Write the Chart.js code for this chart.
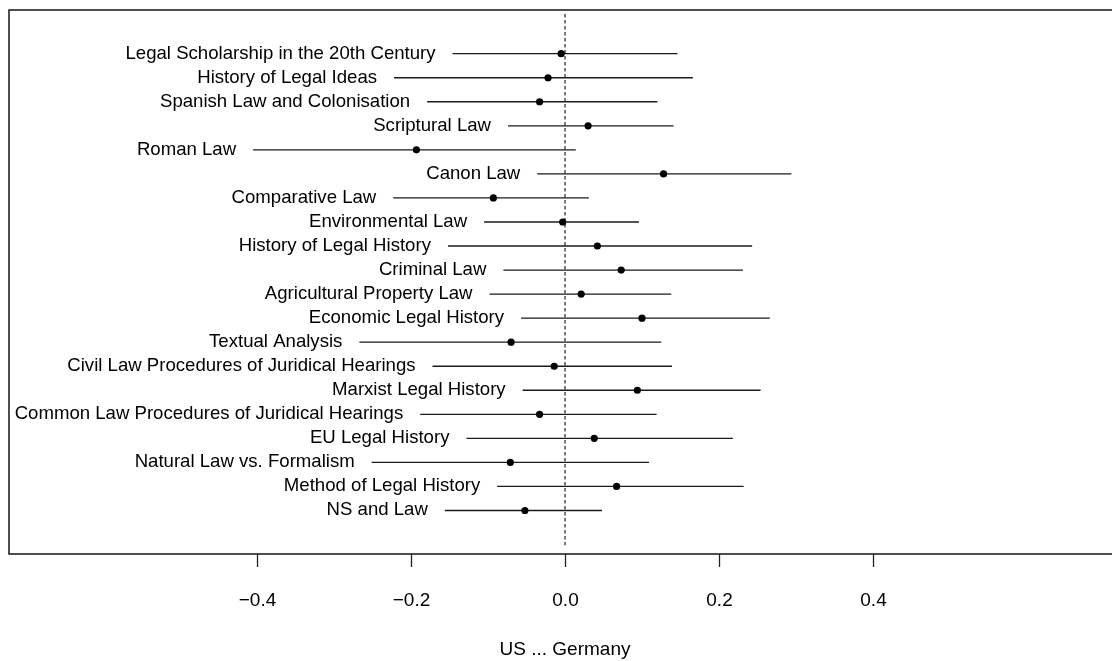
<!DOCTYPE html>
<html>
<head>
<meta charset="utf-8">
<script src="https://cdn.jsdelivr.net/npm/chart.js@4/dist/chart.umd.min.js"></script>
<style>
  body { margin: 0; background: #fff; overflow: hidden; }
  #wrap { width: 1130px; height: 661px; }
</style>
</head>
<body>
<div id="wrap"><canvas id="dotChart"></canvas></div>
<script>
// topics listed top to bottom
const topics = [
  'Legal Scholarship in the 20th Century',
  'History of Legal Ideas',
  'Spanish Law and Colonisation',
  'Scriptural Law',
  'Roman Law',
  'Canon Law',
  'Comparative Law',
  'Environmental Law',
  'History of Legal History',
  'Criminal Law',
  'Agricultural Property Law',
  'Economic Legal History',
  'Textual Analysis',
  'Civil Law Procedures of Juridical Hearings',
  'Marxist Legal History',
  'Common Law Procedures of Juridical Hearings',
  'EU Legal History',
  'Natural Law vs. Formalism',
  'Method of Legal History',
  'NS and Law'
];
const estimates = [-0.005, -0.022, -0.033, 0.030, -0.193, 0.128, -0.093, -0.003, 0.042, 0.073,
                   0.021, 0.100, -0.070, -0.014, 0.094, -0.033, 0.038, -0.071, 0.067, -0.052];
const lower = [-0.146, -0.222, -0.179, -0.074, -0.405, -0.036, -0.223, -0.105, -0.152, -0.080,
               -0.098, -0.057, -0.267, -0.172, -0.055, -0.188, -0.128, -0.251, -0.088, -0.156];
const upper = [0.146, 0.166, 0.120, 0.141, 0.014, 0.294, 0.031, 0.096, 0.243, 0.231,
               0.138, 0.266, 0.125, 0.139, 0.254, 0.119, 0.218, 0.109, 0.232, 0.048];
const tickVals = [-0.4, -0.2, 0.0, 0.2, 0.4];
const tickLabels = ['\u22120.4', '\u22120.2', '0.0', '0.2', '0.4'];
const xTitle = 'US ... Germany';
const refX = 0;
const refSpan = [21.65, -0.45];

const FONT = '"Liberation Sans", Arial, Helvetica, sans-serif';
const INK = '#1a1a1a';

// row 1 sits at the top
const rowY = i => topics.length - i;

const whiskers = topics.map((t, i) => ({
  data: [{x: lower[i], y: rowY(i)}, {x: upper[i], y: rowY(i)}],
  showLine: true,
  borderColor: INK,
  borderWidth: 1.3,
  pointRadius: 0,
  order: 2
}));

const decor = {
  id: 'decor',
  afterDraw(chart) {
    const ctx = chart.ctx;
    const xs = chart.scales.x;
    const ys = chart.scales.y;
    const area = chart.chartArea;
    ctx.save();

    // topic labels, right aligned just left of each interval
    ctx.font = '18.6px ' + FONT;
    ctx.fillStyle = '#000';
    ctx.textAlign = 'right';
    ctx.textBaseline = 'alphabetic';
    topics.forEach((t, i) => {
      ctx.fillText(t, xs.getPixelForValue(lower[i]) - 17, ys.getPixelForValue(rowY(i)) + 5);
    });

    // frame
    ctx.strokeStyle = '#222';
    ctx.lineWidth = 1.6;
    ctx.strokeRect(area.left, area.top, area.right - area.left, area.bottom - area.top);

    // x ticks and labels
    ctx.lineWidth = 1.3;
    ctx.textAlign = 'center';
    ctx.font = '19px ' + FONT;
    tickVals.forEach((v, i) => {
      const px = Math.round(xs.getPixelForValue(v)) + 0.5;
      ctx.beginPath();
      ctx.moveTo(px, area.bottom);
      ctx.lineTo(px, area.bottom + 13);
      ctx.stroke();
      ctx.fillText(tickLabels[i], px, area.bottom + 52);
    });
    ctx.fillText(xTitle, (area.left + area.right) / 2, area.bottom + 101);
    ctx.restore();
  }
};

new Chart(document.getElementById('dotChart'), {
  type: 'scatter',
  data: {
    datasets: [
      {
        data: [{x: refX, y: refSpan[0]}, {x: refX, y: refSpan[1]}],
        showLine: true,
        borderColor: '#333',
        borderWidth: 1.3,
        borderDash: [3.5, 2.5],
        pointRadius: 0,
        order: 3
      },
      ...whiskers,
      {
        data: estimates.map((e, i) => ({x: e, y: rowY(i)})),
        pointRadius: 3.6,
        pointBackgroundColor: '#000',
        pointBorderWidth: 0,
        order: 1
      }
    ]
  },
  options: {
    responsive: true,
    maintainAspectRatio: false,
    animation: false,
    layout: { padding: { left: 9, top: 10, right: 9, bottom: 107 } },
    plugins: { legend: { display: false }, tooltip: { enabled: false } },
    scales: {
      x: { type: 'linear', min: -0.722, max: 0.722, display: false },
      y: { type: 'linear', min: -0.81, max: 21.817, display: false }
    }
  },
  plugins: [decor]
});
</script>
</body>
</html>
